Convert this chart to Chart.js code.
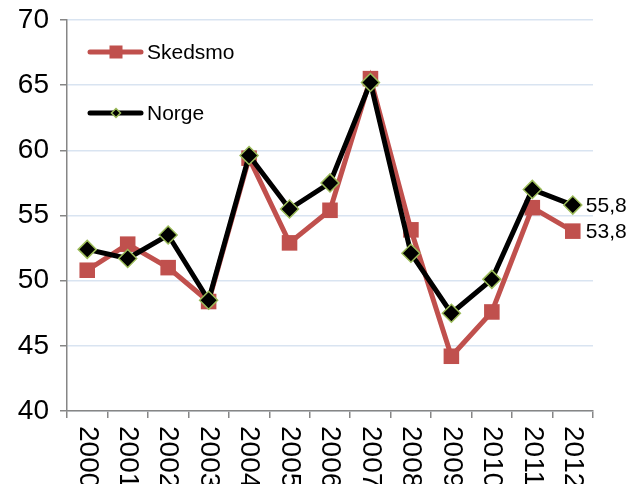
<!DOCTYPE html>
<html>
<head>
<meta charset="utf-8">
<script src="https://cdn.jsdelivr.net/npm/chart.js@4/dist/chart.umd.min.js"></script>
<style>
  html, body { margin: 0; padding: 0; background: #ffffff; }
  #wrap { width: 639px; height: 484px; }
</style>
</head>
<body>
<div id="wrap"><canvas id="c" width="639" height="484"></canvas></div>
<script>
// Years on the category axis
const years = ['2000', '2001', '2002', '2003', '2004', '2005', '2006',
               '2007', '2008', '2009', '2010', '2011', '2012'];
// Series values (percent)
const skedsmo = [50.8, 52.8, 51.0, 48.4, 59.4, 52.9, 55.4, 65.5, 53.9, 44.2, 47.6, 55.6, 53.8];
const norge   = [52.4, 51.7, 53.5, 48.5, 59.6, 55.5, 57.5, 65.2, 52.1, 47.5, 50.1, 57.0, 55.8];
// Value axis range
const yMin = 40, yMax = 70, yStep = 5;

const RED = '#c0504d';
const GREEN = '#9bbb59';
const AXIS = '#868686';
const GRID = '#d9e4f1';
const FONT = "'Liberation Sans', Arial, sans-serif";

// Category labels, written top-to-bottom under each tick gap
const yearLabels = {
  id: 'yearLabels',
  afterDraw(chart) {
    const ctx = chart.ctx;
    const xs = chart.scales.x;
    ctx.save();
    ctx.fillStyle = '#000';
    ctx.font = '28px ' + FONT;
    ctx.textAlign = 'left';
    ctx.textBaseline = 'middle';
    years.forEach((y, i) => {
      const px = xs.getPixelForValue(i);
      ctx.save();
      ctx.translate(px, chart.chartArea.bottom + 15);
      ctx.rotate(Math.PI / 2);
      ctx.fillText(y, 0, 0);
      ctx.restore();
    });
    ctx.restore();
  }
};

// Legend inside the plot, top-left
const insideLegend = {
  id: 'insideLegend',
  afterDraw(chart) {
    const ctx = chart.ctx;
    const rows = [
      { text: 'Skedsmo', y: 52, color: RED, marker: 'square' },
      { text: 'Norge', y: 113, color: '#000', marker: 'diamond' }
    ];
    ctx.save();
    rows.forEach(r => {
      ctx.strokeStyle = r.color;
      ctx.lineWidth = 5;
      ctx.lineCap = 'round';
      ctx.beginPath();
      ctx.moveTo(90, r.y);
      ctx.lineTo(141, r.y);
      ctx.stroke();
      if (r.marker === 'square') {
        ctx.fillStyle = RED;
        ctx.fillRect(116 - 6.5, r.y - 6.5, 13, 13);
      } else {
        ctx.beginPath();
        ctx.moveTo(116, r.y - 4.5);
        ctx.lineTo(120.5, r.y);
        ctx.lineTo(116, r.y + 4.5);
        ctx.lineTo(111.5, r.y);
        ctx.closePath();
        ctx.fillStyle = '#000';
        ctx.fill();
        ctx.lineWidth = 1.5;
        ctx.strokeStyle = GREEN;
        ctx.stroke();
      }
      ctx.fillStyle = '#000';
      ctx.font = '21px ' + FONT;
      ctx.textAlign = 'left';
      ctx.textBaseline = 'middle';
      ctx.fillText(r.text, 147, r.y + 1);
    });
    ctx.restore();
  }
};

// Value labels on the last point of each series
const endLabels = {
  id: 'endLabels',
  afterDatasetsDraw(chart) {
    const ctx = chart.ctx;
    ctx.save();
    ctx.fillStyle = '#000';
    ctx.font = '21px ' + FONT;
    ctx.textAlign = 'left';
    ctx.textBaseline = 'middle';
    chart.data.datasets.forEach((ds, di) => {
      const meta = chart.getDatasetMeta(di);
      const last = meta.data[meta.data.length - 1];
      const v = ds.data[ds.data.length - 1];
      ctx.fillText(v.toFixed(1).replace('.', ','), last.x + 13, last.y + 1);
    });
    ctx.restore();
  }
};

new Chart(document.getElementById('c'), {
  type: 'line',
  data: {
    labels: years,
    datasets: [
      {
        label: 'Skedsmo',
        data: skedsmo,
        borderColor: RED,
        backgroundColor: RED,
        borderWidth: 5,
        pointStyle: 'rect',
        pointRadius: 11,
        pointBorderWidth: 0,
        pointBackgroundColor: RED,
        tension: 0,
        order: 2
      },
      {
        label: 'Norge',
        data: norge,
        borderColor: '#000',
        backgroundColor: '#000',
        borderWidth: 5,
        pointStyle: 'rectRot',
        pointRadius: 9,
        pointBorderWidth: 1.5,
        pointBorderColor: GREEN,
        pointBackgroundColor: '#000',
        tension: 0,
        order: 1
      }
    ]
  },
  options: {
    responsive: false,
    animation: false,
    devicePixelRatio: 1,
    layout: { padding: { left: 0, top: 20, right: 46, bottom: 0 } },
    plugins: {
      legend: { display: false },
      tooltip: { enabled: false }
    },
    scales: {
      x: {
        offset: true,
        grid: {
          offset: true,
          drawOnChartArea: false,
          color: AXIS,
          lineWidth: 1.5,
          tickLength: 7
        },
        border: { color: AXIS, width: 1.5 },
        ticks: { display: false },
        afterFit(s) { s.height = 73; s.paddingLeft = 0; s.paddingRight = 0; }
      },
      y: {
        min: yMin,
        max: yMax,
        grid: {
          color: GRID,
          lineWidth: 1.5,
          tickColor: AXIS,
          tickLength: 7
        },
        border: { color: AXIS, width: 1.5 },
        ticks: {
          stepSize: yStep,
          color: '#000',
          padding: 11,
          font: { family: FONT, size: 28 }
        },
        afterFit(s) { s.width = 67; s.paddingTop = 0; s.paddingBottom = 0; }
      }
    }
  },
  plugins: [yearLabels, insideLegend, endLabels]
});
</script>
</body>
</html>
